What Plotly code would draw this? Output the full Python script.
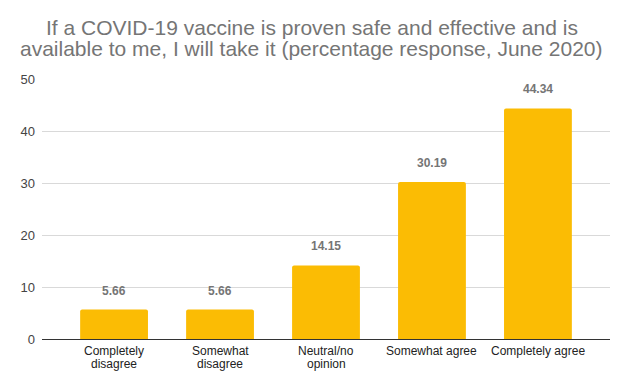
import plotly.graph_objects as go

categories = ["Completely<br>disagree", "Somewhat<br>disagree", "Neutral/no<br>opinion", "Somewhat agree", "Completely agree"]
values = [5.66, 5.66, 14.15, 30.19, 44.34]
value_labels = ["5.66", "5.66", "14.15", "30.19", "44.34"]
y_ticks = [0, 10, 20, 30, 40, 50]
title_lines = [
    "If a COVID-19 vaccine is proven safe and effective and is",
    "available to me, I will take it (percentage response, June 2020)",
]

FONT = "Arial, 'Liberation Sans', sans-serif"

fig = go.Figure(go.Bar(
    x=categories, y=values,
    marker=dict(color="#FBBC04", cornerradius=2, line=dict(width=0)),
    hoverinfo="x+y",
))

# value labels above bars
for cat, val, lab in zip(categories, values, value_labels):
    fig.add_annotation(
        text=lab, x=cat, y=val, xref="x", yref="y",
        xanchor="center", yanchor="middle", yshift=19, showarrow=False,
        font=dict(family=FONT, size=12, color="#757575", weight="bold"),
    )

# category labels (tight line spacing)
for cat in categories:
    for i, part in enumerate(cat.split("<br>")):
        fig.add_annotation(
            text=part, x=cat, y=[-0.048, -0.098][i], xref="x", yref="paper",
            xanchor="center", yanchor="middle", showarrow=False,
            font=dict(family=FONT, size=12, color="#222222"),
        )

for line, ypos in zip(title_lines, [1.2, 1.119]):
    fig.add_annotation(
        text=line, xref="paper", yref="paper", x=0.475, y=ypos,
        xanchor="center", yanchor="middle", showarrow=False,
        font=dict(family=FONT, size=21, color="#757575"),
    )

fig.update_layout(
    width=640, height=386,
    margin=dict(l=42, r=30, t=79, b=47),
    paper_bgcolor="white", plot_bgcolor="white",
    bargap=0.36,
    showlegend=False,
    font=dict(family=FONT, size=12, color="#222222"),
)
fig.update_yaxes(
    range=[0, 50], tickvals=y_ticks, showgrid=True, gridcolor="#D9D9D9", gridwidth=1,
    zeroline=True, zerolinecolor="#333333", zerolinewidth=1,
    tickfont=dict(size=13, color="#444444"), ticks="", ticklabelstandoff=6,
)
fig.update_xaxes(range=[-0.68, len(categories) - 0.32], showticklabels=False,
                 showline=False, ticks="", showgrid=False)

fig.write_html("out.html", config={"displayModeBar": False},
               post_script="document.body.style.margin='0';document.body.style.padding='0';")
